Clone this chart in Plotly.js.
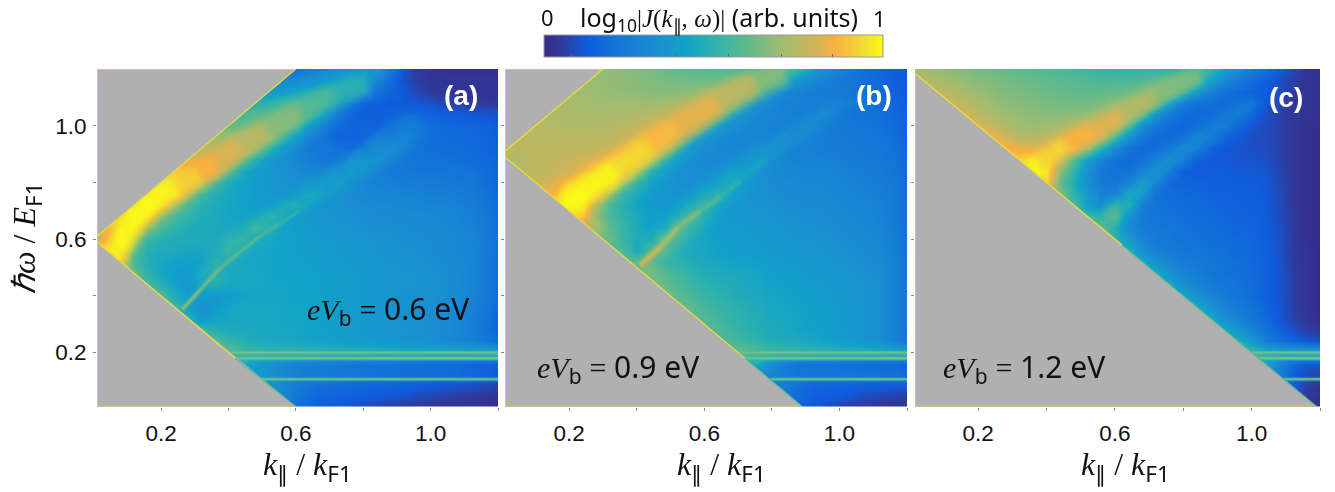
<!DOCTYPE html>
<html><head><meta charset="utf-8">
<script src="https://cdn.plot.ly/plotly-3.0.1.min.js"></script>
<style>html,body{margin:0;padding:0;background:#fff}#c{width:1335px;height:492px}</style>
</head><body><div id="c"></div>
<script>
// grid axes
const kGrid=[0,.04,.08,.12,.16,.2,.24,.28,.32,.36,.4,.44,.48,.52,.56,.6,.64,.68,.72,.76,.8,.84,.88,.92,.96,1,1.04,1.08,1.12,1.16,1.2];
const wGridTopDown=[1.2,1.16,1.12,1.08,1.04,1,.96,.92,.88,.84,.8,.76,.72,.68,.64,.6,.56,.52,.48,.44,.4,.36,.32,.28,.24,.2,.16,.12,.08,.04,0];
// each row lists the visible cells, aligned to the right edge of the panel (k=1.2)
const rowsA=[
[20,24,28,32,36,38,36,24,10,5,3,2,2,2,2,2],
[30,30,34,38,42,46,44,30,18,10,6,4,3,3,3,3,3],
[38,40,44,48,52,54,46,30,20,16,12,8,5,4,4,3,3,3],
[48,50,54,58,60,52,38,24,16,14,13,12,12,10,8,6,5,5,4],
[55,58,60,64,66,58,42,26,16,14,14,15,16,16,15,14,13,12,11,10],
[60,63,68,73,72,58,40,26,18,16,15,15,18,22,24,18,17,16,16,15,13],
[68,72,76,80,72,55,40,28,22,16,15,16,20,26,30,24,18,18,17,16,16,14],
[75,78,82,84,70,52,40,30,24,22,20,18,20,30,34,28,20,19,18,18,17,16,14],
[82,85,87,80,62,48,38,34,30,26,22,24,30,36,36,28,22,21,20,20,19,18,17,16],
[90,88,87,80,60,46,40,37,35,32,28,30,36,40,36,27,24,23,22,22,22,21,20,18,16],
[97,96,88,72,56,46,42,40,37,35,33,36,42,43,35,30,27,26,25,25,24,24,23,22,19,16],
[98,100,92,72,55,47,44,42,40,38,36,40,46,44,36,32,30,29,28,28,27,26,26,25,24,21,17],
[96,100,90,70,56,48,46,44,42,40,40,46,48,40,36,34,33,32,31,30,30,29,28,28,27,25,22,17],
[94,100,90,68,55,50,47,45,43,42,44,50,46,40,38,36,35,34,33,32,32,31,31,30,29,28,26,23,18],
[85,98,92,68,55,50,47,46,45,44,46,54,48,42,40,38,37,36,35,34,33,33,32,32,31,30,29,27,24,19],
[70,88,100,72,52,48,47,46,46,45,50,52,46,44,42,41,40,39,38,37,36,35,34,33,33,32,31,30,28,25,20],
[98,90,58,48,46,45,44,44,46,52,46,44,43,42,41,40,39,38,37,36,35,34,34,33,32,31,30,28,25,20],
[85,55,47,44,42,41,42,50,46,44,43,43,42,41,41,40,39,38,37,36,35,35,34,33,32,31,29,25,20],
[62,50,44,40,38,46,50,45,44,44,43,42,42,41,41,40,39,38,37,36,35,35,34,33,31,28,24,19],
[55,48,42,38,44,48,44,44,44,43,43,42,42,41,40,39,38,37,36,35,35,34,33,31,28,24,19],
[58,46,40,40,36,40,42,43,43,43,42,42,41,40,39,38,37,36,35,34,34,32,31,28,24,18],
[55,40,33,38,43,44,44,44,43,43,42,41,40,39,38,37,36,35,34,33,31,30,27,23,17],
[50,38,42,44,44,44,44,43,43,42,41,40,39,38,37,36,35,34,33,31,29,26,22,16],
[52,48,46,45,45,44,44,43,42,41,40,39,38,37,36,35,34,33,31,29,26,21,15],
[58,52,48,46,45,44,44,43,42,41,40,39,38,37,36,35,33,31,29,27,23,18],
[62,56,54,52,52,52,51,50,50,49,49,48,48,47,47,46,46,46,46,45,45],
[45,38,34,30,27,25,24,23,22,21,20,20,19,19,18,18,17,16,15,13],
[38,34,30,27,25,24,23,22,21,20,20,19,19,18,18,17,16,15,13],
[36,30,24,20,18,17,17,16,15,15,14,13,12,11,10,9,8,6],
[30,22,18,16,15,14,13,12,11,10,8,7,6,5,4,3,2],
[20,16,13,11,9,7,5,3,2,2,2,2,2,2,2,2]];
const rowsB=[
[68,67,65,64,62,60,59,58,57,56,56,58,60,60,52,42,33,27,22,19,16,13,12],
[69,68,67,66,65,64,63,62,62,63,66,70,72,60,46,36,30,27,24,21,19,17,14,12],
[70,69,68,68,67,66,66,66,68,70,74,76,66,48,36,30,27,25,25,24,22,20,18,15,13],
[72,71,70,70,70,70,70,71,73,76,80,80,62,44,34,30,27,26,26,27,28,24,20,18,16,14],
[73,72,72,72,72,72,73,74,76,80,84,78,58,42,34,30,28,27,26,28,30,25,21,20,19,17,14],
[74,74,73,73,73,74,75,77,80,85,86,72,52,40,33,30,28,27,28,31,32,26,23,22,21,20,18,15],
[75,75,75,75,75,75,76,78,82,87,82,62,46,36,32,30,28,28,30,34,33,27,25,24,23,22,21,19,15],
[75,76,76,76,76,76,77,79,84,90,86,68,50,38,33,30,29,30,34,36,30,27,26,25,25,24,23,22,20,16],
[72,76,76,77,78,80,83,88,94,86,66,50,40,34,31,30,31,36,40,33,29,27,27,27,26,25,24,23,21,17],
[75,76,78,80,84,90,97,90,66,50,41,35,32,32,35,42,42,34,31,29,29,28,28,27,26,25,24,22,17],
[78,82,87,94,98,88,66,52,43,37,34,33,36,42,46,40,35,32,31,30,30,29,28,27,26,25,23,18],
[86,96,100,90,68,52,45,40,36,35,38,46,50,42,37,34,33,32,31,31,30,29,28,27,26,24,18],
[100,94,72,56,48,43,38,37,40,48,52,44,38,36,35,34,33,32,32,31,30,29,28,27,24,19],
[90,68,56,50,45,40,40,48,56,48,41,38,37,36,35,34,33,33,32,31,30,29,27,25,19],
[72,58,52,46,42,46,60,52,44,40,39,38,37,36,35,34,34,33,32,31,30,28,25,20],
[62,52,46,46,62,56,46,43,41,40,39,38,37,36,35,35,34,33,32,31,29,26,20],
[56,44,58,60,48,45,44,42,41,40,39,38,37,36,36,35,34,33,32,30,26,20],
[60,62,52,50,47,45,44,43,42,41,40,39,38,37,36,35,34,33,31,27,21],
[64,58,54,50,47,46,45,44,43,41,40,39,38,37,36,35,34,32,28,21],
[62,57,53,50,48,47,45,44,42,41,40,39,38,37,36,35,33,28,22],
[60,56,52,50,48,46,45,43,42,41,40,39,38,36,35,33,28,22],
[60,55,52,50,48,46,44,43,42,41,40,38,37,35,33,28,22],
[58,54,51,49,47,45,44,43,41,40,38,37,35,33,28,22],
[57,53,50,48,46,45,43,42,40,39,37,35,33,28,21],
[56,52,50,47,46,45,44,42,40,38,36,33,28,22],
[62,58,55,54,53,52,51,50,50,49,48,46,44],
[45,32,24,21,20,20,19,19,18,18,17,15],
[28,24,22,22,22,22,21,21,20,20,18],
[25,18,16,15,15,14,13,13,12,11],
[18,14,13,12,10,8,7,6,5],
[13,8,5,4,3,2,2,2]];
const rowsC=[
[72,70,68,66,65,63,62,61,60,58,57,56,55,53,52,51,50,50,50,50,52,56,52,42,33,26,20,14,8,3,2],
[74,72,70,68,66,65,63,62,61,60,59,58,57,56,56,56,57,60,64,66,56,42,30,24,18,14,10,6,3,2],
[76,74,71,69,67,65,64,63,62,61,60,60,60,61,63,66,72,68,52,36,26,20,17,15,13,10,5,3,2],
[78,75,72,69,67,66,65,64,63,63,63,65,68,72,74,60,40,26,20,18,18,20,20,12,7,4,3,2],
[80,76,72,70,68,67,66,66,67,69,72,76,76,58,36,24,18,17,18,22,24,16,10,7,4,3,2],
[82,78,73,70,69,70,72,76,80,82,76,56,34,22,17,16,18,24,26,16,11,9,7,4,2,2],
[85,80,75,74,76,80,84,86,78,56,34,22,17,17,20,27,26,16,12,10,9,7,4,2,1],
[87,83,82,84,87,84,70,50,32,20,17,18,24,29,24,15,12,11,10,9,7,4,2,1],
[92,94,92,78,58,40,26,20,18,20,28,31,24,14,12,12,11,11,10,7,4,2,1],
[100,96,68,50,34,24,20,20,28,33,24,14,13,13,13,12,12,11,8,4,2,1],
[92,60,46,32,24,22,28,36,28,16,15,15,14,14,13,13,12,8,4,2,1],
[66,50,38,27,28,42,36,20,18,17,16,15,15,14,13,12,9,4,2,1],
[56,40,32,48,50,26,20,19,18,17,16,15,15,14,13,9,4,2,1],
[52,50,58,34,24,21,20,19,18,17,16,15,15,13,9,5,2,1],
[62,48,30,25,23,22,20,19,18,17,16,15,13,10,5,2,1],
[50,38,28,24,23,21,20,19,18,17,16,14,10,5,2,1],
[48,34,27,24,23,21,20,19,17,16,14,10,5,3,1],
[46,34,28,25,23,21,20,19,17,15,11,5,3,1],
[46,34,28,25,22,20,19,17,15,11,6,3,1],
[46,34,28,24,22,20,18,15,11,6,3,1],
[46,34,28,24,21,18,15,11,6,3,1],
[46,34,27,24,20,16,12,6,3,1],
[46,34,28,22,18,12,7,4,2],
[46,36,28,20,15,10,6,4],
[48,38,26,20,16,12,10],
[56,48,46,44,44,44],
[44,28,18,12,12],
[26,14,8,6],
[14,6,3],
[4,2],
[1]];
// narrow ridges: position and strength along each one
const ridgeAk=[.2635,.315,.374,.4346,.494,.553,.612,.672];
const ridgeAw=[.352,.42,.496,.555,.611,.654,.701,.754];
const ridgeAv=[68,64,60,58,56,52,47,42];
const ridgeBk=[.41,.47,.523,.588,.648,.707,.786];
const ridgeBw=[.508,.572,.643,.70,.75,.807,.889];
const ridgeBv=[84,74,68,60,52,46,40];
// broader continuations of the ridges
const tailAk=[.672,.8,.86,.96];
const tailAw=[.754,.9,.96,1.03];
const tailAv=[40,35,29,23];
const tailBk=[.786,.856,.985];
const tailBw=[.889,.96,1.07];
const tailBv=[38,33,27];
const tailCk=[.57,.61,.689,.767,.865,1.01];
const tailCw=[.678,.713,.795,.877,.97,1.088];
const tailCv=[66,52,38,32,28,20];
// main bright bands
const coreAk=[.05,.082,.102,.137,.186,.246,.315,.365,.434,.514,.612,.71,.81];
const coreAw=[.53,.561,.631,.684,.736,.778,.824,.854,.924,.982,1.053,1.105,1.147];
const coreAv=[96,100,100,100,100,97,88,84,78,70,61,53,45];
const coreBk=[.19,.242,.34,.44,.52,.64,.75,.836];
const coreBw=[.72,.77,.84,.924,.98,1.075,1.146,1.193];
const coreBv=[100,100,98,90,86,80,72,60];
const coreCk=[.35,.376,.455,.533,.62,.718,.845];
const coreCw=[.85,.865,.935,.977,1.035,1.10,1.18];
const coreCv=[100,100,87,86,78,70,60];
// horizontal bands: level and where it starts
const levels=[.2,.18,.106];
const startA=[.4,.42,.495], startB=[.7,.72,.795], startC=[1,1.02,1.095];
const kEnd=1.2;
// gray, unreachable regions
const grayAk=[.01,.01,.6,.01,null,.01,.01,.6,.01], grayAw=[.61,1.2,1.2,.61,null,.59,.01,.01,.59];
const grayBk=[.01,.01,.3,.01,null,.01,.01,.89,.01], grayBw=[.91,1.2,1.2,.91,null,.89,.01,.01,.89];
const grayCk=[.015,.015,1.19,.015], grayCw=[1.185,.01,.01,1.185];
// rims of the gray regions
const rimYAk=[.6,.01,.01,.6,null,.6,.01,null,.01,.42], rimYAw=[1.2,1.2,.01,.01,null,1.2,.61,null,.59,.18];
const rimGAk=[.42,.6], rimGAw=[.18,.01];
const rimYBk=[.3,.01,.01,.89,null,.3,.01,null,.01,.72], rimYBw=[1.2,1.2,.01,.01,null,1.2,.91,null,.89,.18];
const rimGBk=[.72,.89], rimGBw=[.18,.01];
const rimYCk=[.015,.015,1.19,null,.015,.62], rimYCw=[1.185,.01,.01,null,1.185,.58];
const rimGCk=[.62,1.19], rimGCw=[.58,.01];
// ticks and colour bar
const cbTicks=[8,24,39,54.5,70,85];
const tickK=[.2,.6,1], tickKminor=[.4,.8,1.2];
const tickW=[.2,.6,1], tickWminor=[.4,.8];

const parula=[[0,'#352a87'],[.05,'#2f3a9c'],[.13,'#0f5cdd'],[.2,'#1272d8'],[.32,'#1a8cd2'],[.42,'#12a2c8'],[.5,'#2eb2ac'],[.6,'#60ba8c'],[.7,'#a0bc70'],[.8,'#d2b458'],[.86,'#fbb040'],[.9,'#f6c63a'],[.95,'#f4e030'],[1,'#f9fb15']];
function colorOf(v){const t=v/100;for(let i=1;i<parula.length;i++){if(t<=parula[i][0]){const a=parula[i-1],b=parula[i],f=(t-a[0])/(b[0]-a[0]);const h=c=>[1,3,5].map(j=>parseInt(c.substr(j,2),16));const A=h(a[1]),B=h(b[1]);return 'rgb('+A.map((x,j)=>Math.round(x+(B[j]-x)*f)).join(',')+')'}}return parula[parula.length-1][1]}
const yDown=wGridTopDown.slice().reverse();
function grid(rows){return rows.map(r=>{const p=[];for(let i=0;i<kGrid.length-r.length;i++)p.push(r[0]);return p.concat(r)}).reverse()}
const MATH="Liberation Serif", SANS="Noto Sans";
const Ax=['x','x2','x3'],Ay=['y','y2','y3'];
function heat(rows,i,scale){const t={type:'heatmap',x:kGrid,y:yDown,z:grid(rows),zmin:0,zmax:100,zsmooth:'best',colorscale:parula,showscale:!!scale,xaxis:Ax[i],yaxis:Ay[i],hoverinfo:'skip'};
 if(scale)t.colorbar={orientation:'h',x:544/1335,xanchor:'left',y:1-61/492,yanchor:'bottom',yref:'paper',len:339,lenmode:'pixels',thickness:22,thicknessmode:'pixels',outlinecolor:'#999',outlinewidth:1,ticks:'inside',ticklen:3,tickcolor:'#666',tickmode:'array',tickvals:cbTicks,showticklabels:false,xpad:0,ypad:0,bordercolor:'rgba(0,0,0,0)'};return t}
function ln(k,w,i,color,width,op,shape){return {type:'scatter',mode:'lines',x:k,y:w,xaxis:Ax[i],yaxis:Ay[i],opacity:op==null?1:op,line:{color:color,width:width,shape:shape||'linear'},hoverinfo:'skip',showlegend:false}}
function gray(k,w,i){return {type:'scatter',mode:'lines',x:k,y:w,xaxis:Ax[i],yaxis:Ay[i],fill:'toself',fillcolor:'#b0b0b0',line:{color:'rgba(0,0,0,0)',width:0},hoverinfo:'skip',showlegend:false}}
// soft band: stacked translucent strokes, one colour per stretch
function soft(k,w,v,i,widths,ops){const out=[];widths.forEach((wd,l)=>{for(let s=0;s<k.length-1;s++){out.push(ln([k[s],k[s+1]],[w[s],w[s+1]],i,colorOf((v[s]+v[s+1])/2),wd,ops[l]))}});return out}
function bands(start,i){const c='#6cbf90';const out=[];
 out.push(ln([start[0],kEnd],[.19,.19],i,'#3cb6a4',10,.6));
 out.push(ln([start[2],kEnd],[levels[2],levels[2]],i,'#2fb0b0',5,.4));
 levels.forEach((l,j)=>out.push(ln([start[j],kEnd],[l,l],i,c,j==2?1.8:2.4,1)));return out}
const sharpSets=[soft(ridgeAk,ridgeAw,ridgeAv,0,[6,2.8],[.35,.85]),soft(ridgeBk,ridgeBw,ridgeBv,1,[9,4],[.35,.85]),[]];
const softSets=[
 [...soft(tailAk,tailAw,tailAv,0,[16,8],[.4,.4]),...soft(coreAk,coreAw,coreAv,0,[22,10],[.6,.8])],
 [...soft(tailBk,tailBw,tailBv,1,[16,8],[.4,.4]),...soft(coreBk,coreBw,coreBv,1,[30,14],[.6,.8])],
 [...soft(tailCk,tailCw,tailCv,2,[11,5],[.45,.6]),...soft(coreCk,coreCw,coreCv,2,[20,9],[.6,.8])]];
const data=[heat(rowsA,0,true),heat(rowsB,1,false),heat(rowsC,2,false),
 ...sharpSets[0],...softSets[0],...sharpSets[1],...softSets[1],...softSets[2],
 ...bands(startA,0),...bands(startB,1),...bands(startC,2),
 gray(grayAk,grayAw,0),gray(grayBk,grayBw,1),gray(grayCk,grayCw,2),
 ln(rimYAk,rimYAw,0,'#e8dc40',1.4,.95),ln(rimGAk,rimGAw,0,'#58ba90',1.2,.9),
 ln(rimYBk,rimYBw,1,'#e8dc40',1.4,.95),ln(rimGBk,rimGBw,1,'#58ba90',1.2,.9),
 ln(rimYCk,rimYCw,2,'#e8dc40',1.4,.95),ln(rimGCk,rimGCw,2,'#58ba90',1.2,.9)];

const yd=[1-406.5/492,1-69/492];
const tf={family:'Liberation Sans',size:22.5,color:'#111'};
const minor=v=>({tickmode:'array',tickvals:v,ticks:'outside',ticklen:3,tickcolor:'#888',showgrid:false});
function xa(a,b,r){return {domain:[a/1335,b/1335],range:r,showgrid:false,zeroline:false,showline:false,ticks:'outside',ticklen:3,tickcolor:'#888',tickmode:'array',tickvals:tickK,ticktext:tickK.map(v=>v.toFixed(1)),tickfont:tf,ticklabelstandoff:3,minor:minor(tickKminor)}}
function ya(anchor,lab){return {domain:yd,range:[.01,1.2],showgrid:false,zeroline:false,showline:false,ticks:'outside',ticklen:3,tickcolor:'#888',tickmode:'array',tickvals:tickW,ticktext:tickW.map(v=>v.toFixed(1)),showticklabels:lab,tickfont:tf,anchor:anchor,ticklabelstandoff:2,minor:minor(tickWminor)}}
function note(px,py,text,size,extra){return Object.assign({xref:'paper',yref:'paper',x:px/1335,y:1-py/492,text:text,showarrow:false,xanchor:'center',yanchor:'middle',font:{family:SANS,size:size,color:'#111'}},extra||{})}
const M=s=>`<span style="font-family:'${MATH}'"><i>${s}</i></span>`;
const R=s=>`<span style="font-family:'${MATH}'">${s}</span>`;
const kTitle=`${M('k')}<sub>∥</sub>${R(' / ')}${M('k')}<sub>F1</sub>`;
const ev=v=>`${M('eV')}<sub>b</sub> ${R('=')} ${v} eV`;
const lab=(x,y,t)=>note(x,y,`<b>${t}</b>`,28,{font:{family:'Liberation Sans',size:28,color:'#fff'}});
const ann=[
 lab(461,96,'(a)'),lab(874,95,'(b)'),lab(1286,97,'(c)'),
 note(388,310,ev('0.6'),30),note(618,368,ev('0.9'),30),note(1024,368,ev('1.2'),30),
 note(307,467,kTitle,32),note(721,467,kTitle,32),note(1125,467,kTitle,32),
 note(27,239,`${M('ℏω')}${R(' / ')}${M('E')}<sub>F1</sub>`,32,{textangle:-90}),
 note(547,17,'0',22),note(879,18,'1',22),
 note(719,18,`log<sub>10</sub>${R('|')}${M('J')}${R('(')}${M('k')}<sub>∥</sub>${R(',')} ${M('ω')}${R(')|')} (arb. units)`,25)
];
const layout={width:1335,height:492,margin:{l:0,r:0,t:0,b:0,pad:0},paper_bgcolor:'#fff',plot_bgcolor:'#fff',showlegend:false,
 xaxis:xa(97,498,[.01,1.2]),yaxis:ya('x',true),
 xaxis2:xa(505,907,[.01,1.2]),yaxis2:ya('x2',false),
 xaxis3:xa(915,1320,[.015,1.2]),yaxis3:ya('x3',false),
 annotations:ann};
Plotly.newPlot('c',data,layout,{displayModeBar:false,staticPlot:true}).then(gd=>{
 const svg=gd.querySelector('.main-svg');const NS='http://www.w3.org/2000/svg';
 const defs=svg.querySelector('defs');
 [['softA',3.5],['softB',.7]].forEach(([id,sd])=>{const f=document.createElementNS(NS,'filter');f.setAttribute('id',id);f.setAttribute('filterUnits','userSpaceOnUse');f.setAttribute('x',-50);f.setAttribute('y',-50);f.setAttribute('width',1500);f.setAttribute('height',600);const b=document.createElementNS(NS,'feGaussianBlur');b.setAttribute('stdDeviation',sd);f.appendChild(b);defs.appendChild(f)});
 ['xy','x2y2','x3y3'].forEach((s,i)=>{const layer=gd.querySelector('.subplot.'+s+' .scatterlayer');if(!layer)return;const tr=[...layer.querySelectorAll(':scope > .trace')];
  const n1=sharpSets[i].length,n2=softSets[i].length;
  const mk=(nodes,id)=>{if(!nodes.length)return;const g=document.createElementNS(NS,'g');g.setAttribute('filter','url(#'+id+')');layer.insertBefore(g,nodes[0]);nodes.forEach(n=>g.appendChild(n))};
  mk(tr.slice(0,n1),'softB');mk(tr.slice(n1,n1+n2),'softA');});
});
</script></body></html>
